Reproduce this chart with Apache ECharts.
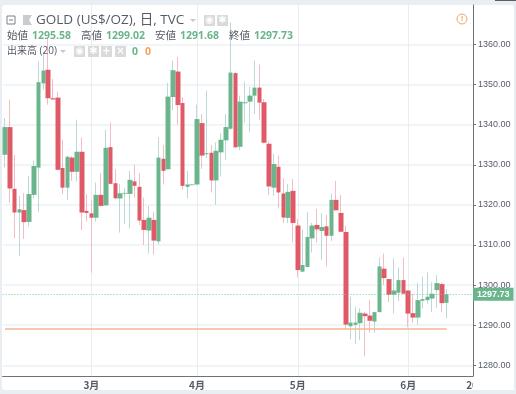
<!DOCTYPE html>
<html>
<head>
<meta charset="utf-8">
<style>
  html, body { margin: 0; padding: 0; background: #e9eef2; }
  #panel { position: absolute; left: 2px; top: 5px; width: 512px; height: 385px; background: #fff; border-radius: 3px; }
  #chart { position: absolute; left: 0; top: 0; width: 516px; height: 394px; }
</style>
<script src="https://cdn.jsdelivr.net/npm/echarts@6/dist/echarts.min.js"></script>
</head>
<body>
<div id="panel"></div>
<div id="chart"></div>
<script>
const opens = [
  1332.5, 1339.4, 1324.0, 1318.1, 1318.7, 1315.75, 1322.5, 1329.3, 1350.3, 1353.7,
  1346.6, 1346.75, 1329.2, 1324.3, 1331.8, 1328.25, 1333.25, 1318.5, 1317.9, 1316.8,
  1322.5, 1319.9, 1334.4, 1325.4, 1321.6, 1322.8, 1322.75, 1325.85, 1324.5, 1316.25,
  1313.6, 1316.25, 1310.9, 1331.5, 1328.9, 1346.9, 1353.25, 1345.4, 1324.5, 1324.9,
  1325.1, 1340.4, 1332.65, 1333, 1326.1, 1333.1, 1336.1, 1339, 1352.85, 1334.5,
  1345.35, 1345.75, 1347.25, 1349.25, 1345.6, 1335.25, 1324.3, 1329.5, 1322.85, 1316.75,
  1323.5, 1314.85, 1303.35, 1304.5, 1311.65, 1315, 1313.5, 1314.65, 1312.3, 1321.25,
  1318, 1313.25, 1289.75, 1290.1, 1290.5, 1292.9, 1292.4, 1290.9, 1293.25, 1304.1,
  1301.5, 1297.6, 1298.1, 1301.25, 1298.65, 1293, 1291.9, 1296.1, 1296.25, 1296.65,
  1298.75, 1300.25, 1295.58
];
const closes = [
  1339.4, 1324.1, 1318.1, 1318.9, 1315.7, 1322.7, 1329.7, 1350.6, 1353.5, 1346.6,
  1346.3, 1328.75, 1324.3, 1332, 1328.25, 1333.25, 1318.1, 1318, 1316.8, 1322.5,
  1319.75, 1334.25, 1325.25, 1321.65, 1322.9, 1323, 1326.25, 1324.75, 1316.1, 1313.75,
  1316.8, 1311.1, 1331.8, 1328.5, 1347, 1353.6, 1344.9, 1324.75, 1325.1, 1325.1,
  1341.4, 1332.3, 1332.9, 1326.1, 1333.5, 1336.25, 1339.4, 1353, 1334.35, 1345.75,
  1345.6, 1347.25, 1349.25, 1345.5, 1335.5, 1324.6, 1330.2, 1323.1, 1316.85, 1323.25,
  1315.5, 1303.75, 1305, 1312, 1314.85, 1313.9, 1314.5, 1312.3, 1321.25, 1318.65,
  1313.3, 1290.15, 1290.65, 1290.65, 1293.1, 1292.25, 1291.1, 1293.25, 1304.65, 1301.75,
  1297.6, 1298.65, 1301.25, 1297.85, 1292.9, 1291.9, 1296.25, 1296.5, 1297.1, 1297.85,
  1300.5, 1295.5, 1297.73
];
const lows = [
  1329.3, 1320.6, 1311.7, 1307.3, 1311.5, 1314.6, 1321.65, 1318.3, 1348.75, 1345,
  1346.25, 1328.6, 1322.65, 1321.25, 1326, 1325.8, 1313.75, 1315.85, 1303.1, 1315.85,
  1319.6, 1319.75, 1325.25, 1321.4, 1313.1, 1315.25, 1314.1, 1321.85, 1315, 1310,
  1307.9, 1307.6, 1310.1, 1325.1, 1328.75, 1343.6, 1340, 1323.75, 1321.6, 1324.9,
  1324.9, 1329, 1331.65, 1323.1, 1320, 1327.1, 1331.25, 1338.75, 1334.35, 1333.6,
  1340.5, 1338.1, 1342.65, 1341.25, 1335.35, 1322.5, 1322.25, 1319.1, 1315.5, 1315.5,
  1310.6, 1301.9, 1303.35, 1304.5, 1308.1, 1310.6, 1306.25, 1304.6, 1311, 1318.65,
  1313.3, 1289.1, 1286.5, 1285.35, 1286.25, 1282.25, 1288.1, 1288.1, 1293.25, 1300,
  1295.75, 1292.9, 1296, 1297.85, 1289.5, 1290.6, 1290.1, 1294.1, 1295.4, 1293.25,
  1294.35, 1293.25, 1291.68
];
const highs = [
  1341.7, 1346.25, 1332.5, 1322.25, 1322.9, 1327.25, 1331, 1355.8, 1357.5, 1361.75,
  1351.4, 1348.25, 1336.25, 1332.2, 1332.2, 1341.25, 1336.8, 1322.65, 1321.25, 1325.6,
  1327.9, 1338.75, 1340.6, 1328.9, 1325.25, 1324.2, 1328.5, 1330, 1327.9, 1321.85,
  1319.75, 1318.2, 1336.9, 1334.9, 1350.4, 1356, 1356.9, 1346.9, 1328.5, 1325.1,
  1345, 1342.65, 1348.5, 1334.9, 1335.6, 1337.9, 1342.65, 1365.5, 1353.2, 1347.25,
  1350.75, 1349.5, 1356, 1355, 1346.4, 1336, 1332.8, 1332.25, 1326.65, 1325.25,
  1326.5, 1316.5, 1313.75, 1318.2, 1315.5, 1319, 1317.9, 1317.5, 1322.85, 1326,
  1322.5, 1314.85, 1297.1, 1294.6, 1294.25, 1293.35, 1296.25, 1293.25, 1306.9, 1307.9,
  1301.5, 1306.65, 1304.4, 1306.9, 1298.65, 1297.75, 1300.6, 1302.1, 1303.15, 1300.65,
  1302.5, 1300.65, 1299.02
];
// bars plus the empty space to the right of the last one
const slotCount = 98;
const monthIndex = [18, 40, 61, 84, 97];
const monthLabels = ['3月', '4月', '5月', '6月', '20'];
const priceTicks = [1280, 1290, 1300, 1310, 1320, 1330, 1340, 1350, 1360];
const lastPrice = 1297.73;
const supportLevel = 1289;
const ohlcLabels = ['始値', '高値', '安値', '終値'];
const ohlcValues = ['1295.58', '1299.02', '1291.68', '1297.73'];

const UP = '#6bb58c', DOWN = '#df5a66';
const UP_WICK = '#bcd8d8', DOWN_WICK = '#f4bcc4';
const TEXT = '#555b66';

const categories = [];
for (let i = 0; i < slotCount; i++) {
  const m = monthIndex.indexOf(i);
  categories.push(m >= 0 ? monthLabels[m] : String(i));
}
const isMonth = (i) => monthIndex.indexOf(i) >= 0;
const isGridMonth = (i) => isMonth(i) && i !== 97;

const wickData = opens.map((o, i) => [o, closes[i], lows[i], highs[i]]);
const bodyData = opens.map((o, i) => [o, closes[i], Math.min(o, closes[i]), Math.max(o, closes[i])]);

function label(x, y, text, color, size, weight) {
  return {
    type: 'text', x: x, y: y, silent: true, z: 20,
    style: {
      text: text, fill: color, fontSize: size, fontWeight: weight || 'normal',
      fontFamily: '"Open Sans", "Noto Sans CJK JP", sans-serif', verticalAlign: 'middle'
    }
  };
}
function iconBox(x, y, w, glyph) {
  return [
    { type: 'rect', silent: true, z: 20, shape: { x: x, y: y, width: w, height: w }, style: { fill: '#d8dadc' } },
    { type: 'text', silent: true, z: 21, x: x + w / 2, y: y + w / 2,
      style: { text: glyph, fill: '#fff', fontSize: 10, fontWeight: 'bold', align: 'center', verticalAlign: 'middle',
        fontFamily: '"DejaVu Sans", sans-serif' } }
  ];
}
function caret(x, y) {
  return { type: 'polygon', silent: true, z: 20, shape: { points: [[x, y], [x + 6, y], [x + 3, y + 3]] }, style: { fill: '#c4c7cc' } };
}

const headerX = [7, 81, 155, 229];
const valueX = [32, 106, 180, 254];
const graphics = [
  // clips the last date label where the price scale starts
  { type: 'rect', silent: true, z: 10, shape: { x: 473, y: 377, width: 41, height: 13 }, style: { fill: '#fff' } },
  { type: 'rect', silent: true, z: 20, shape: { x: 495, y: 0, width: 21, height: 1 }, style: { fill: '#5a5f66' } },
  { type: 'rect', silent: true, z: 20, shape: { x: 7, y: 16, width: 8, height: 8 }, style: { fill: 'none', stroke: '#7d8288', lineWidth: 1 } },
  { type: 'line', silent: true, z: 20, shape: { x1: 9, y1: 20, x2: 13, y2: 20 }, style: { stroke: '#7d8288', lineWidth: 1 } },
  { type: 'polygon', silent: true, z: 20, shape: { points: [[23, 15], [32, 15], [29, 20], [32, 25], [23, 25]] }, style: { fill: '#c9cccf' } },
  label(36, 20, 'GOLD (US$/OZ), 日, TVC', TEXT, 13.5),
  caret(190, 19),
  ...iconBox(204, 15, 11, '◉'),
  ...iconBox(217, 15, 11, '✱'),
  label(7, 51, '出来高 (20)', TEXT, 10),
  caret(60, 50),
  ...iconBox(74, 46, 11, '◉'),
  ...iconBox(88, 46, 11, '✱'),
  ...iconBox(101, 46, 11, '+'),
  ...iconBox(115, 46, 11, '×'),
  label(132, 52, '0', UP, 10.5, 'bold'),
  label(145, 52, '0', '#f4a25c', 10.5, 'bold'),
  { type: 'circle', silent: true, z: 20, shape: { cx: 462, cy: 19, r: 5 }, style: { fill: 'none', stroke: '#f4a25c', lineWidth: 1 } },
  { type: 'text', silent: true, z: 20, x: 462, y: 19, style: { text: '!', fill: '#f4a25c', fontSize: 8, fontWeight: 'bold', align: 'center', verticalAlign: 'middle' } }
];
ohlcLabels.forEach((t, i) => {
  graphics.push(label(headerX[i], 36, t, TEXT, 10.5));
  graphics.push(label(valueX[i], 36, ohlcValues[i], UP, 10.5, 'bold'));
});

const chart = echarts.init(document.getElementById('chart'));
chart.setOption({
  animation: false,
  backgroundColor: 'transparent',
  graphic: graphics,
  grid: { left: 2.6, top: 5, width: 470.4, height: 371 },
  xAxis: {
    type: 'category',
    data: categories,
    boundaryGap: true,
    axisLine: { lineStyle: { color: '#6e7278', width: 1 } },
    axisTick: { alignWithLabel: true, length: 3, interval: (i) => isMonth(i), lineStyle: { color: '#6e7278' } },
    axisLabel: {
      interval: (i) => isMonth(i), color: TEXT, fontSize: 10, margin: 4, fontWeight: 'bold',
      hideOverlap: false, showMinLabel: true, showMaxLabel: true,
      fontFamily: '"Noto Sans CJK JP", sans-serif',
      // the last label sits partly under the price scale, as in the screenshot
      formatter: (v) => (v === '20' ? '{cut|20}' : v),
      rich: { cut: { padding: [0, 0, 0, 3], color: TEXT, fontSize: 10, fontWeight: 'bold' } }
    },
    splitLine: { show: true, alignWithLabel: true, interval: (i) => isGridMonth(i), lineStyle: { color: '#e8eef4', width: 1 } }
  },
  yAxis: {
    type: 'value',
    position: 'right',
    min: 1277.33,
    max: 1369.85,
    axisLine: { show: true, lineStyle: { color: '#6e7278', width: 1 } },
    axisTick: { show: true, length: 3, customValues: priceTicks, lineStyle: { color: '#6e7278' } },
    axisLabel: {
      customValues: priceTicks, color: TEXT, fontSize: 9, margin: 5,
      fontFamily: '"Liberation Sans", sans-serif',
      formatter: (v) => v.toFixed(2)
    },
    splitLine: { show: true, lineStyle: { color: '#eef2f6', width: 1.5 } }
  },
  series: [
    {
      name: 'wick',
      type: 'candlestick',
      data: wickData,
      barWidth: 1,
      itemStyle: { color: UP_WICK, color0: DOWN_WICK, borderColor: UP_WICK, borderColor0: DOWN_WICK, borderWidth: 1 },
      markLine: {
        silent: true,
        symbol: 'none',
        animation: false,
        data: [
          {
            yAxis: lastPrice,
            lineStyle: { color: '#7fc09c', type: [1, 2], width: 1 },
            label: {
              position: 'end', distance: 0,
              formatter: () => lastPrice.toFixed(2),
              color: '#fff', fontSize: 9, fontWeight: 'bold',
              fontFamily: '"Liberation Sans", sans-serif',
              backgroundColor: UP, padding: [2, 4]
            }
          },
          [
            { xAxis: 0, yAxis: supportLevel, lineStyle: { color: '#f6b595', type: 'solid', width: 1.5 }, label: { show: false } },
            { xAxis: opens.length - 1, yAxis: supportLevel }
          ]
        ]
      }
    },
    {
      name: 'body',
      type: 'candlestick',
      data: bodyData,
      barWidth: 5,
      itemStyle: { color: UP, color0: DOWN, borderColor: UP, borderColor0: DOWN, borderWidth: 0 }
    }
  ]
});
</script>
</body>
</html>
